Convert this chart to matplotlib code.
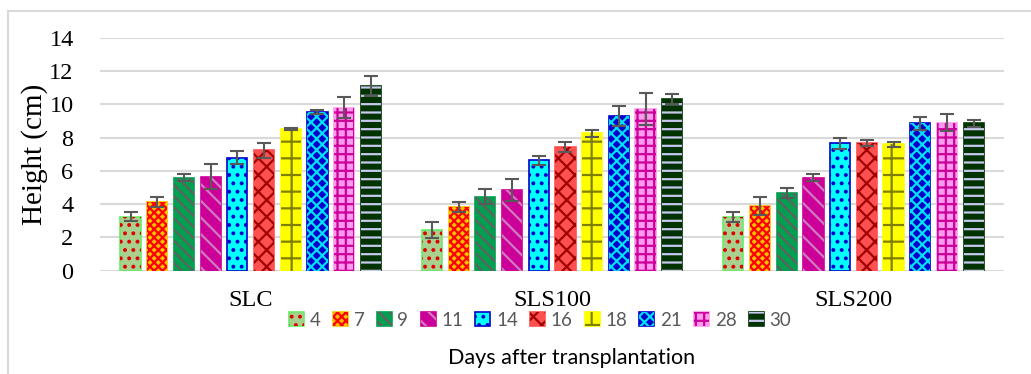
import numpy as np
import matplotlib.pyplot as plt
from matplotlib.patches import Patch, Rectangle

plt.rcParams['font.family'] = ['Liberation Serif', 'DejaVu Serif']
plt.rcParams['hatch.linewidth'] = 1.6

# donnees
groups = ['SLC', 'SLS100', 'SLS200']
days = ['4', '7', '9', '11', '14', '16', '18', '21', '28', '30']

slc = [3.25, 4.15, 5.6, 5.65, 6.8, 7.25, 8.5, 9.55, 9.8, 11.1]
slc_err = [0.25, 0.3, 0.2, 0.75, 0.4, 0.45, 0.05, 0.12, 0.65, 0.6]
sls100 = [2.45, 3.8, 4.45, 4.85, 6.65, 7.45, 8.25, 9.3, 9.7, 10.3]
sls100_err = [0.5, 0.3, 0.45, 0.65, 0.27, 0.3, 0.23, 0.58, 0.95, 0.3]
sls200 = [3.2, 3.87, 4.65, 5.6, 7.65, 7.65, 7.6, 8.85, 8.9, 8.85]
sls200_err = [0.3, 0.55, 0.3, 0.2, 0.32, 0.18, 0.16, 0.4, 0.5, 0.2]

heights = np.array([slc, sls100, sls200])
errs = np.array([slc_err, sls100_err, sls200_err])

# style de chaque serie : fond, bord, hachure, couleur hachure
styles = [
    ('#a9d08e', '#66ee66', '..', '#e00000'),
    ('#ffc000', '#ffc000', 'xxxx', '#ff0000'),
    ('#00a050', '#00a050', '\\\\\\', '#606060'),
    ('#cc0099', '#cc0099', '\\\\', '#d07ac0'),
    ('#00ffff', '#0000cc', '..', '#0000cc'),
    ('#ff5050', '#ff5050', 'xx', '#a00000'),
    ('#ffff00', '#ffff00', '+', '#808000'),
    ('#0000cc', '#0000cc', 'xxx', '#00e0ff'),
    ('#ff99ee', '#ff99ee', '++', '#cc0099'),
    ('#003300', '#003300', '--', '#c8c8f0'),
]

fig = plt.figure(figsize=(10.31, 3.74), dpi=100)
ax = fig.add_axes([0.097, 0.2762, 0.877, 0.6230])

x = np.arange(len(groups))
slot = 0.0886
width = 0.067
handles = []
for i, d in enumerate(days):
    fc, ec, h, hc = styles[i]
    pos = x + (i - 4.5) * slot
    ax.bar(pos, heights[:, i], width, color=fc, edgecolor=ec, linewidth=1.2, zorder=2)
    ax.bar(pos, heights[:, i], width, color='none', edgecolor=hc, hatch=h, linewidth=0, zorder=2)
    ax.errorbar(pos, heights[:, i], yerr=errs[:, i], fmt='none', ecolor='#595959',
                elinewidth=1.5, capsize=5, capthick=1.5, zorder=4)
    handles.append((Patch(facecolor=fc, edgecolor=ec, linewidth=1.2),
                    Patch(facecolor='none', edgecolor=hc, hatch=h, linewidth=0)))

ax.set_xlim(-0.5, 2.5)
ax.set_ylim(0, 14)
ax.set_yticks(np.arange(0, 15, 2))
ax.set_xticks(x)
ax.set_xticklabels(groups)
ax.tick_params(axis='both', length=0, labelsize=17.5)
ax.tick_params(axis='y', pad=19)
ax.tick_params(axis='x', pad=14)
ax.yaxis.grid(True, color='#d9d9d9', linewidth=1.5)
ax.set_axisbelow(True)
for s in ax.spines.values():
    s.set_visible(False)
ax.set_ylabel('Height (cm)', fontsize=21)
ax.yaxis.set_label_coords(-0.058, 0.5)

leg = fig.legend(handles, days, loc='center', bbox_to_anchor=(0.524, 0.144), ncol=10,
                 frameon=False, handlelength=0.8, handleheight=0.8, handletextpad=0.3,
                 columnspacing=0.65, prop={'family': 'Lato', 'size': 13.5})
for t in leg.get_texts():
    t.set_color('#595959')

fig.text(572 / 1031, 1 - 358 / 374, 'Days after transplantation', ha='center', va='center',
         family='Lato', fontsize=15.5)

fig.patches.append(Rectangle((8 / 1031, -0.05), 1.1, 1 - 10.5 / 374 + 0.05, transform=fig.transFigure,
                             fill=False, edgecolor='#d9d9d9', linewidth=1.5))

fig.savefig('out.png', dpi=100)
